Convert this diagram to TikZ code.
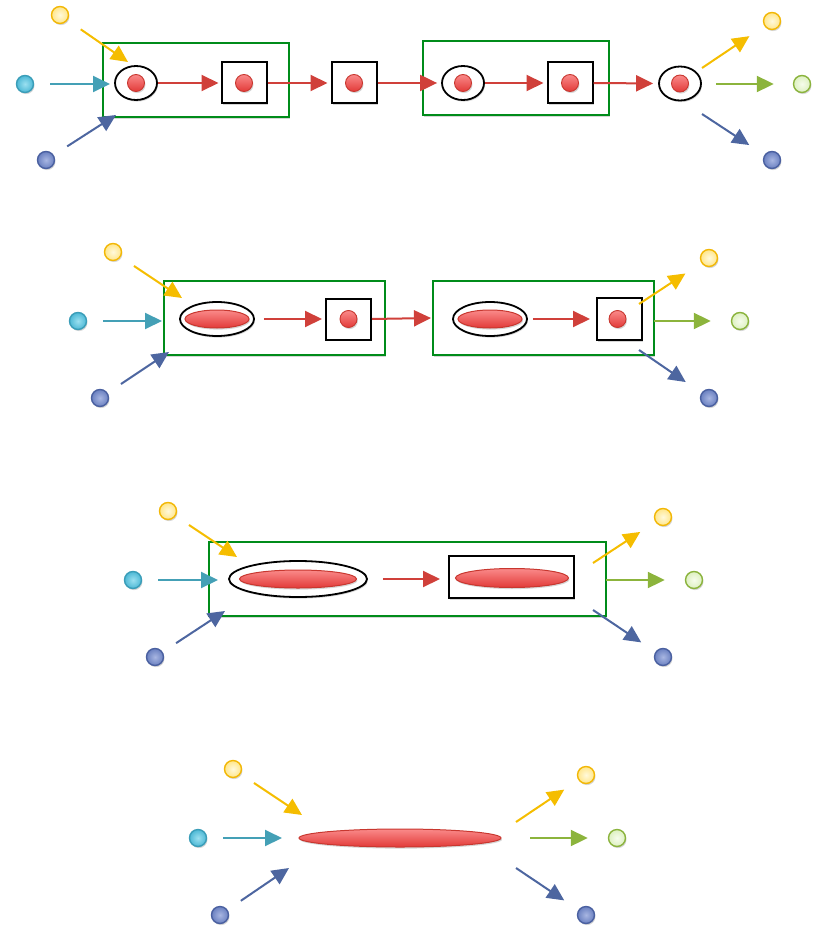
\documentclass[tikz,border=0pt]{standalone}
\usetikzlibrary{arrows.meta,shapes.geometric,shadows}
\definecolor{yedge}{HTML}{F2B705}
\definecolor{yin}{HTML}{FFF9DC}
\definecolor{yout}{HTML}{FFE68A}
\definecolor{cedge}{HTML}{3A9DB8}
\definecolor{cin}{HTML}{9BE0F0}
\definecolor{cout}{HTML}{4DB8D5}
\definecolor{bedge}{HTML}{4A60A0}
\definecolor{bin}{HTML}{A8B6E2}
\definecolor{bout}{HTML}{6A80C0}
\definecolor{gedge}{HTML}{8AB33C}
\definecolor{gin}{HTML}{F6FCEC}
\definecolor{gout}{HTML}{DDF0C0}
\definecolor{redge}{HTML}{C8372F}
\definecolor{rin}{HTML}{FA8A8A}
\definecolor{rout}{HTML}{E23A38}
\definecolor{yarrc}{HTML}{F5BD00}
\definecolor{carrc}{HTML}{44A0B6}
\definecolor{barrc}{HTML}{4D66A0}
\definecolor{garrc}{HTML}{8CB43C}
\definecolor{rarrc}{HTML}{D0403A}
\definecolor{gboxc}{HTML}{008C1A}
\begin{document}
\begin{tikzpicture}[x=1pt,y=-1pt,
  shad/.style={drop shadow={shadow xshift=1pt, shadow yshift=-1.6pt, opacity=0.16, fill=black}},
  ball/.style={circle, inner sep=0pt, minimum size=17pt, line width=1.4pt, shad},
  yball/.style={ball, draw=yedge, inner color=yin, outer color=yout},
  cball/.style={ball, draw=cedge, inner color=cin, outer color=cout},
  bball/.style={ball, draw=bedge, inner color=bin, outer color=bout},
  gball/.style={ball, draw=gedge, inner color=gin, outer color=gout},
  rball/.style={ball, draw=redge, line width=0.9pt, top color=rin, bottom color=rout},
  arr/.style={line width=2pt, -{Triangle[length=17pt,width=16pt]}},
  yarr/.style={arr, draw=yarrc, fill=yarrc},
  carr/.style={arr, draw=carrc, fill=carrc},
  barr/.style={arr, draw=barrc, fill=barrc},
  garr/.style={arr, draw=garrc, fill=garrc},
  rarr/.style={arr, draw=rarrc, fill=rarrc},
  inarr/.style={shorten <=16pt},
  outarr/.style={shorten >=18pt},
  gbox/.style={rectangle, draw=gboxc, line width=2pt, fill=white, inner sep=0pt, minimum height=74pt, shad},
  sqbox/.style={rectangle, draw=black, line width=2pt, fill=white, inner sep=0pt, minimum width=45pt, minimum height=41pt, shad},
  ellbox/.style={ellipse, draw=black, line width=1.8pt, fill=white, inner sep=0pt, minimum width=42pt, minimum height=34pt, shad},
  rell/.style={ellipse, draw=redge, line width=1pt, inner sep=0pt, top color=rin, bottom color=rout, shad}
]
\useasboundingbox (0,0) rectangle (819,928);

% ================= Row 1 =================
\node[gbox, minimum width=186pt] (g11) at (196,80) {};
\node[gbox, minimum width=186pt] (g12) at (516,78) {};
\node[ellbox] (e11) at (136,83) {};
\node[rball] (r11) at (e11.center) {};
\node[sqbox] (s11) at (244,83) {};
\node[rball] (r12) at (s11.center) {};
\node[sqbox] (s12) at (354,83) {};
\node[rball] (r13) at (s12.center) {};
\node[ellbox] (e12) at (463,83) {};
\node[rball] (r14) at (e12.center) {};
\node[sqbox] (s13) at (570,83) {};
\node[rball] (r15) at (s13.center) {};
\node[ellbox] (e13) at (680,83.5) {};
\node[rball] (r16) at (e13.center) {};

\draw[rarr, shorten >=2pt] (e11.east) -- (s11.west);
\draw[rarr, shorten >=3pt] (s11.east) -- (s12.west);
\draw[rarr, shorten >=4pt] (s12.east) -- (e12.west);
\draw[rarr, shorten >=3pt] (e12.east) -- (s13.west);
\draw[rarr, shorten >=5pt] (s13.east) -- (e13.west);

\node[yball] (yi1) at (60,15) {};
\node[cball] (ci1) at (25,84) {};
\node[bball] (bi1) at (46,160) {};
\coordinate (yi1e) at (128,62);
\coordinate (ci1e) at (110,84);
\coordinate (bi1e) at (116,115);
\draw[yarr, inarr] (yi1) -- (yi1e);
\draw[carr, inarr] (ci1) -- (ci1e);
\draw[barr, inarr] (bi1) -- (bi1e);

\node[yball] (yo1) at (772,21) {};
\node[gball] (go1) at (802,84) {};
\node[bball] (bo1) at (772,160) {};
\coordinate (yo1s) at (702,68);
\coordinate (go1s) at (716,84);
\coordinate (bo1s) at (702,114);
\draw[yarr, outarr] (yo1s) -- (yo1);
\draw[garr, outarr, shorten >=19pt] (go1s) -- (go1);
\draw[barr, outarr] (bo1s) -- (bo1);

% ================= Row 2 =================
\node[gbox, minimum width=221pt] (g21) at (274.5,318) {};
\node[gbox, minimum width=221pt] (g22) at (543.5,318) {};
\node[ellbox, minimum width=74pt] (e21) at (217,319) {};
\node[rell, minimum width=64pt, minimum height=18pt] (ri21) at (e21.center) {};
\node[sqbox] (s21) at (348.5,319) {};
\node[rball] (r21) at (s21.center) {};
\node[ellbox, minimum width=74pt] (e22) at (490,319) {};
\node[rell, minimum width=64pt, minimum height=18pt] (ri22) at (e22.center) {};
\node[sqbox, minimum height=42pt] (s22) at (619.5,319) {};
\node[rball] (r22) at ([xshift=-2pt]s22.center) {};

\draw[rarr, shorten <=9pt, shorten >=3pt] (e21.east) -- (s21.west);
\draw[rarr, shorten >=1pt] (s21.east) -- (g22.west);
\draw[rarr, shorten <=5pt, shorten >=6pt] (e22.east) -- (s22.west);

\node[yball] (yi2) at (113,252) {};
\node[cball] (ci2) at (78,321) {};
\node[bball] (bi2) at (100,398) {};
\coordinate (yi2e) at (182,298);
\coordinate (ci2e) at (162,321);
\coordinate (bi2e) at (169,352);
\draw[yarr, inarr] (yi2) -- (yi2e);
\draw[carr, inarr] (ci2) -- (ci2e);
\draw[barr, inarr] (bi2) -- (bi2e);

\node[yball] (yo2) at (709,258) {};
\node[gball] (go2) at (740,321) {};
\node[bball] (bo2) at (709,398) {};
\coordinate (yo2s) at (639,304);
\coordinate (go2s) at (654,321);
\coordinate (bo2s) at (639,350);
\draw[yarr, outarr, shorten >=19pt] (yo2s) -- (yo2);
\draw[garr, outarr, shorten >=20pt] (go2s) -- (go2);
\draw[barr, outarr, shorten >=19pt] (bo2s) -- (bo2);

% ================= Row 3 =================
\node[gbox, minimum width=397pt] (g31) at (407.5,579) {};
\node[ellbox, minimum width=138pt, minimum height=36pt] (e31) at (298,579) {};
\node[rell, minimum width=117pt, minimum height=18pt] (ri31) at (e31.center) {};
\node[sqbox, minimum width=125pt, minimum height=42pt] (s31) at (511.5,577) {};
\node[rell, minimum width=113pt, minimum height=19pt] (ri32) at (512,578) {};

\draw[rarr, shorten <=15pt, shorten >=8pt] (e31.east) -- (s31.west |- e31.east);

\node[yball] (yi3) at (168,511) {};
\node[cball] (ci3) at (133,580) {};
\node[bball] (bi3) at (155,657) {};
\coordinate (yi3e) at (237,557);
\coordinate (ci3e) at (218,580);
\coordinate (bi3e) at (225,611);
\draw[yarr, inarr] (yi3) -- (yi3e);
\draw[carr, inarr] (ci3) -- (ci3e);
\draw[barr, inarr] (bi3) -- (bi3e);

\node[yball] (yo3) at (663,517) {};
\node[gball] (go3) at (694,580) {};
\node[bball] (bo3) at (663,657) {};
\coordinate (yo3s) at (593,563);
\coordinate (go3s) at (606,580);
\coordinate (bo3s) at (593,610);
\draw[yarr, outarr] (yo3s) -- (yo3);
\draw[garr, outarr, shorten >=20pt] (go3s) -- (go3);
\draw[barr, outarr, shorten >=17pt] (bo3s) -- (bo3);

% ================= Row 4 =================
\node[rell, minimum width=202pt, minimum height=18pt] (r41) at (400,838) {};

\node[yball] (yi4) at (233,769) {};
\node[cball] (ci4) at (198,838) {};
\node[bball] (bi4) at (220,915) {};
\coordinate (yi4e) at (302,815);
\coordinate (ci4e) at (282,838);
\coordinate (bi4e) at (289,868);
\draw[yarr, inarr] (yi4) -- (yi4e);
\draw[carr, inarr] (ci4) -- (ci4e);
\draw[barr, inarr] (bi4) -- (bi4e);

\node[yball] (yo4) at (586,775) {};
\node[gball] (go4) at (617,838) {};
\node[bball] (bo4) at (586,915) {};
\coordinate (yo4s) at (516,822);
\coordinate (go4s) at (530,838);
\coordinate (bo4s) at (516,868);
\draw[yarr, outarr, shorten >=17pt] (yo4s) -- (yo4);
\draw[garr, outarr, shorten >=20pt] (go4s) -- (go4);
\draw[barr, outarr, shorten >=17pt] (bo4s) -- (bo4);
\end{tikzpicture}
\end{document}
